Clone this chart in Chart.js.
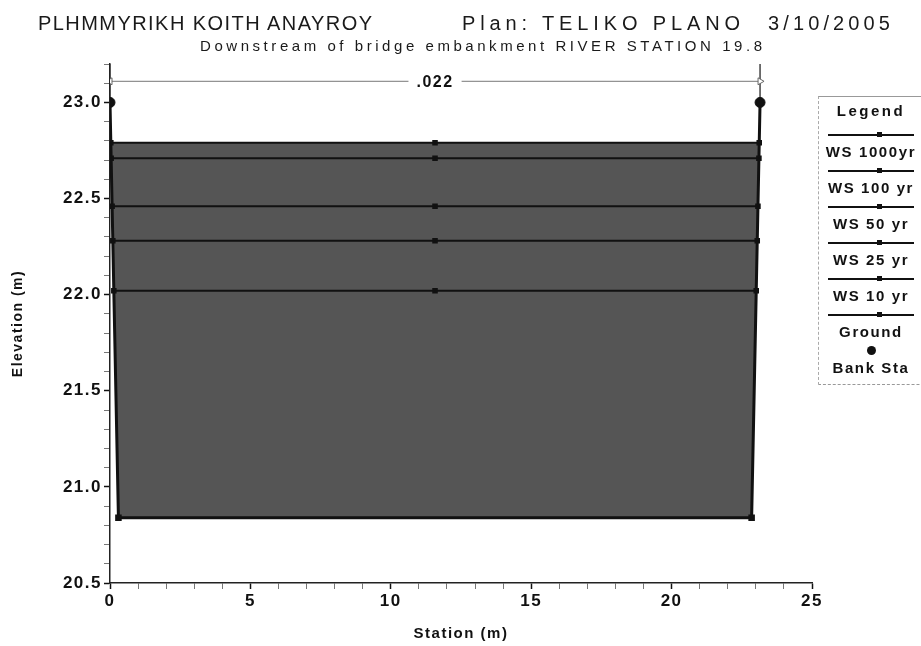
<!DOCTYPE html>
<html><head><meta charset="utf-8">
<script src="https://cdn.jsdelivr.net/npm/chart.js@4.4.1/dist/chart.umd.min.js"></script>
<style>
html,body{margin:0;padding:0;background:#fff;overflow:hidden;width:921px;height:646px}
#wrap{position:relative;width:921px;height:646px;overflow:hidden}
canvas{position:absolute;left:0;top:0}
.t{position:absolute;white-space:nowrap;font-family:"Liberation Sans",Arial,sans-serif;color:#1a1a1a;line-height:1}
#legend{position:absolute;left:818px;top:96px;width:130px;height:287px;border-top:1px solid #999;border-left:1px dashed #aaa;border-bottom:1px dashed #999;font-family:"Liberation Sans",Arial,sans-serif;font-weight:bold;color:#111}
#legend .hdr{position:absolute;left:0;width:104px;top:5px;text-align:center;font-size:15px;letter-spacing:2.5px}
#legend .ent{position:absolute;left:0;width:104px;height:36px}
#legend .smp{position:absolute;left:9px;width:86px;top:7px;height:0;border-top:2px solid #111}
#legend .mk{position:absolute;left:49px;top:-4px;width:5px;height:5px;background:#111}
#legend .dot{position:absolute;left:48px;top:3px;width:9px;height:9px;border-radius:50%;background:#111}
#legend .lab{position:absolute;left:-20px;width:144px;top:16px;text-align:center;font-size:15px;letter-spacing:1.6px}
</style></head><body>
<div id="wrap">
<canvas id="c" width="921" height="646"></canvas>
<div class="t fit" data-x0="38" data-x1="372" style="top:13px;font-size:20px">PLHMMYRIKH KOITH ANAYROY</div>
<div class="t fit" data-x0="462" data-x1="740" style="top:13px;font-size:20px">Plan: TELIKO PLANO</div>
<div class="t fit" data-x0="768" data-x1="890" style="top:13px;font-size:20px">3/10/2005</div>
<div class="t fit" data-x0="200" data-x1="762" style="top:38px;font-size:15px">Downstream of bridge embankment RIVER STATION 19.8</div>
<div id="legend"><div class="hdr">Legend</div></div>
</div>
<script>
// ---- data ----
const groundStation = [0, 0.3, 22.85, 23.15];
const groundElev    = [23.0, 20.84, 20.84, 23.0];
const bankStaStation = [0, 23.15];
const bankStaElev    = [23.0, 23.0];
const wsLabels = ['WS 1000yr', 'WS 100 yr', 'WS 50 yr', 'WS 25 yr', 'WS 10 yr'];
const wsElev   = [22.79, 22.71, 22.46, 22.28, 22.02];
const mannN = ['.022'];
const mannBounds = [0, 23.15];
const mannLabelElev = 23.11;
const xTickLabels = [0, 5, 10, 15, 20, 25];
const yTickLabels = [20.5, 21.0, 21.5, 22.0, 22.5, 23.0];
const xRange = [0, 25];
const yRange = [20.5, 23.2];

// fit title spans to their widths
document.querySelectorAll('.fit').forEach(el => {
  const x0 = +el.dataset.x0, x1 = +el.dataset.x1;
  el.style.left = x0 + 'px';
  const w = el.getBoundingClientRect().width;
  const n = el.textContent.length;
  el.style.letterSpacing = ((x1 - x0 - w) / (n - 1)) + 'px';
});

// where a water surface meets the ground walls
function wallStation(e, side) {
  const i0 = side === 'L' ? 0 : groundStation.length - 2;
  const xa = groundStation[i0], xb = groundStation[i0 + 1];
  const ya = groundElev[i0], yb = groundElev[i0 + 1];
  return xa + (xb - xa) * (e - ya) / (yb - ya);
}

const INK = '#111';
const FILL = '#555555';
const datasets = [];
wsElev.forEach((e, i) => {
  const xl = wallStation(e, 'L'), xr = wallStation(e, 'R');
  datasets.push({
    label: wsLabels[i], legend: 'line',
    data: [{x: xl, y: e}, {x: (xl + xr) / 2, y: e}, {x: xr, y: e}],
    borderColor: INK, borderWidth: 2, pointStyle: 'rect', pointRadius: 2.5,
    pointBackgroundColor: INK, pointBorderColor: INK, showLine: true,
    fill: i === 0 ? wsElev.length : false, backgroundColor: FILL
  });
});
datasets.push({
  label: 'Ground', legend: 'line',
  data: groundStation.map((x, i) => ({x, y: groundElev[i]})),
  borderColor: INK, borderWidth: 3, pointStyle: 'rect', pointRadius: 2.5,
  pointBackgroundColor: INK, pointBorderColor: INK, showLine: true, fill: false
});
datasets.push({
  label: 'Bank Sta', legend: 'dot',
  data: bankStaStation.map((x, i) => ({x, y: bankStaElev[i]})),
  showLine: false, pointStyle: 'circle', pointRadius: 5,
  pointBackgroundColor: INK, pointBorderColor: INK
});
// Manning's n extent line with arrows and boundary ticks
datasets.push({
  label: 'n', legend: null,
  data: mannBounds.map(x => ({x, y: mannLabelElev})),
  borderColor: '#777', borderWidth: 1, showLine: true,
  pointStyle: 'triangle', pointRadius: 4, rotation: [270, 90],
  pointBackgroundColor: '#fff', pointBorderColor: '#666', pointBorderWidth: 1
});
datasets.push({
  label: 'nb', legend: null,
  data: [{x: mannBounds[0], y: yRange[1]}, {x: mannBounds[0], y: bankStaElev[0]}, {x: NaN, y: null},
         {x: mannBounds[1], y: yRange[1]}, {x: mannBounds[1], y: bankStaElev[1]}],
  borderColor: '#444', borderWidth: 1.5, showLine: true, pointRadius: 0, spanGaps: false
});

const nLabelPlugin = {
  id: 'nlabel',
  afterDatasetsDraw(chart) {
    const {ctx, scales: {x, y}} = chart;
    const px = x.getPixelForValue((mannBounds[0] + mannBounds[1]) / 2);
    const py = y.getPixelForValue(mannLabelElev);
    ctx.save();
    ctx.font = 'bold 16px "Liberation Sans", Arial, sans-serif';
    const w = ctx.measureText(mannN[0]).width;
    ctx.fillStyle = '#fff';
    ctx.fillRect(px - w / 2 - 8, py - 8, w + 16, 16);
    ctx.fillStyle = '#111';
    ctx.textAlign = 'center'; ctx.textBaseline = 'middle';
    ctx.fillText(mannN[0], px, py + 1);
    ctx.restore();
  }
};
const spacingPlugin = {
  id: 'spacing',
  beforeInit(chart) { chart.ctx.letterSpacing = '1.5px'; },
  beforeDraw(chart) { chart.ctx.letterSpacing = '1.5px'; }
};

const isOn = (v, list) => list.some(t => Math.abs(t - v) < 1e-6);
const fontTick = {family: '"Liberation Sans", Arial, sans-serif', size: 17, weight: 'bold'};

const chart = new Chart(document.getElementById('c'), {
  type: 'scatter',
  data: {datasets},
  options: {
    responsive: false, animation: false, devicePixelRatio: 1,
    layout: {padding: {top: 64, right: 109, left: 0, bottom: 0}},
    plugins: {legend: {display: false}, tooltip: {enabled: false}, filler: {drawTime: 'beforeDatasetsDraw'}},
    scales: {
      x: {
        type: 'linear', min: xRange[0], max: xRange[1],
        afterFit(s) { s.height = 63; },
        ticks: {stepSize: 1, autoSkip: false, maxRotation: 0, padding: 2, color: '#111', font: fontTick,
          callback: v => isOn(v, xTickLabels) ? String(Math.round(v)) : ''},
        grid: {drawOnChartArea: false, tickLength: 6,
          tickColor: c => isOn(c.tick.value, xTickLabels) ? '#111' : '#777',
          tickWidth: c => isOn(c.tick.value, xTickLabels) ? 1.5 : 1},
        border: {color: '#222', width: 1.5},
        title: {display: true, text: 'Station (m)', color: '#111',
          font: {family: '"Liberation Sans", Arial, sans-serif', size: 15, weight: 'bold'}, padding: {top: 0, bottom: 3}}
      },
      y: {
        type: 'linear', min: yRange[0], max: yRange[1],
        afterFit(s) { s.width = 110; },
        ticks: {stepSize: 0.1, autoSkip: false, padding: 2, color: '#111', font: fontTick,
          callback: v => isOn(v, yTickLabels) ? v.toFixed(1) : ''},
        grid: {drawOnChartArea: false, tickLength: 6,
          tickColor: c => isOn(c.tick.value, yTickLabels) ? '#111' : '#777',
          tickWidth: c => isOn(c.tick.value, yTickLabels) ? 1.5 : 1},
        border: {color: '#222', width: 1.5},
        title: {display: true, text: 'Elevation (m)', color: '#111',
          font: {family: '"Liberation Sans", Arial, sans-serif', size: 14, weight: 'bold'}, padding: {top: 10, bottom: 0}}
      }
    }
  },
  plugins: [spacingPlugin, nLabelPlugin]
});

// HTML legend built from the datasets
const lg = document.getElementById('legend');
chart.data.datasets.filter(d => d.legend).forEach((d, i) => {
  const ent = document.createElement('div');
  ent.className = 'ent';
  ent.style.top = (30 + i * 36) + 'px';
  if (d.legend === 'line') {
    const s = document.createElement('div'); s.className = 'smp';
    const m = document.createElement('div'); m.className = 'mk'; s.appendChild(m);
    ent.appendChild(s);
  } else {
    const dt = document.createElement('div'); dt.className = 'dot'; ent.appendChild(dt);
  }
  const l = document.createElement('div'); l.className = 'lab'; l.textContent = d.label;
  ent.appendChild(l);
  lg.appendChild(ent);
});
</script>
</body></html>
